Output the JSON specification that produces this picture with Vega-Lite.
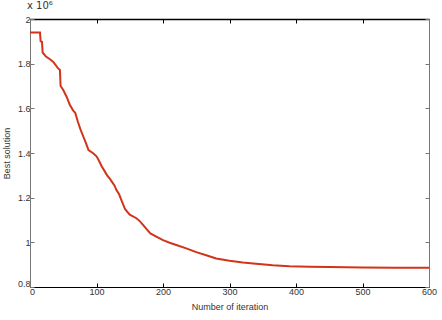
{
  "$schema": "https://vega.github.io/schema/vega-lite/v6.json",
  "width": 399,
  "height": 268,
  "autosize": {"type": "none"},
  "padding": {"left": 30, "top": 19, "right": 13, "bottom": 33},
  "background": "white",
  "title": {"text": "x 10⁶", "anchor": "start", "frame": "group", "offset": 4, "fontSize": 10, "fontWeight": "normal", "font": "DejaVu Sans", "color": "#333", "dx": -3},
  "data": {"values": [
    {"iter": 0, "best": 1.940}, {"iter": 15, "best": 1.940}, {"iter": 16, "best": 1.900}, {"iter": 18, "best": 1.898},
    {"iter": 19, "best": 1.850}, {"iter": 24, "best": 1.832}, {"iter": 30, "best": 1.820}, {"iter": 35, "best": 1.808},
    {"iter": 42, "best": 1.780}, {"iter": 45, "best": 1.772}, {"iter": 46, "best": 1.700}, {"iter": 50, "best": 1.682},
    {"iter": 55, "best": 1.652}, {"iter": 60, "best": 1.615}, {"iter": 65, "best": 1.590}, {"iter": 68, "best": 1.580},
    {"iter": 72, "best": 1.540}, {"iter": 76, "best": 1.505}, {"iter": 80, "best": 1.475}, {"iter": 84, "best": 1.445},
    {"iter": 88, "best": 1.413}, {"iter": 95, "best": 1.399}, {"iter": 100, "best": 1.385}, {"iter": 103, "best": 1.370},
    {"iter": 108, "best": 1.340}, {"iter": 112, "best": 1.320}, {"iter": 116, "best": 1.300}, {"iter": 120, "best": 1.285},
    {"iter": 123, "best": 1.272}, {"iter": 127, "best": 1.255}, {"iter": 130, "best": 1.234}, {"iter": 134, "best": 1.215},
    {"iter": 137, "best": 1.192}, {"iter": 143, "best": 1.148}, {"iter": 150, "best": 1.124}, {"iter": 160, "best": 1.108},
    {"iter": 165, "best": 1.095}, {"iter": 170, "best": 1.078}, {"iter": 175, "best": 1.060}, {"iter": 181, "best": 1.040},
    {"iter": 190, "best": 1.026}, {"iter": 200, "best": 1.010}, {"iter": 210, "best": 0.998}, {"iter": 220, "best": 0.988},
    {"iter": 235, "best": 0.973}, {"iter": 250, "best": 0.956}, {"iter": 265, "best": 0.942}, {"iter": 280, "best": 0.928},
    {"iter": 300, "best": 0.918}, {"iter": 320, "best": 0.910}, {"iter": 340, "best": 0.904}, {"iter": 365, "best": 0.897},
    {"iter": 390, "best": 0.893}, {"iter": 420, "best": 0.891}, {"iter": 450, "best": 0.889}, {"iter": 500, "best": 0.887},
    {"iter": 550, "best": 0.886}, {"iter": 600, "best": 0.886}
  ]},
  "config": {
    "view": {"stroke": null},
    "axis": {
      "grid": false,
      "labelFont": "Liberation Sans",
      "titleFont": "Liberation Sans",
      "labelFontSize": 9,
      "titleFontSize": 9,
      "titleFontWeight": "normal",
      "labelColor": "#333",
      "titleColor": "#333",
      "tickSize": -4,
      "labelPadding": 4
    }
  },
  "layer": [
    {
      "mark": {"type": "line", "color": "#d2341a", "strokeWidth": 2, "interpolate": "linear"},
      "encoding": {
        "x": {"field": "iter", "type": "quantitative", "scale": {"domain": [0, 600], "nice": false},
          "axis": {"orient": "bottom", "title": "Number of iteration", "values": [0, 100, 200, 300, 400, 500, 600], "domainColor": "#000", "tickColor": "#000", "titlePadding": 6, "labelFlush": false,
            "labelOffset": {"condition": {"test": "datum.value == 0", "value": 2}, "value": 0}}},
        "y": {"field": "best", "type": "quantitative", "scale": {"domain": [0.8, 2], "nice": false, "zero": false},
          "axis": {"orient": "left", "title": "Best solution", "values": [0.8, 1, 1.2, 1.4, 1.6, 1.8, 2], "format": "~g", "domainColor": "#777", "tickColor": "#777", "titlePadding": 6,
            "labelOffset": {"condition": {"test": "datum.value == 0.8", "value": -4}, "value": 0}}}
      }
    },
    {
      "mark": {"type": "line", "opacity": 0},
      "encoding": {
        "x": {"field": "iter", "type": "quantitative",
          "axis": {"orient": "top", "title": null, "labels": false, "values": [0, 100, 200, 300, 400, 500, 600], "domainColor": "#000", "tickColor": "#000", "domainWidth": 1.5}},
        "y": {"field": "best", "type": "quantitative",
          "axis": {"orient": "right", "title": null, "labels": false, "values": [0.8, 1, 1.2, 1.4, 1.6, 1.8, 2], "domainColor": "#777", "tickColor": "#777"}}
      }
    }
  ],
  "resolve": {"axis": {"x": "independent", "y": "independent"}}
}
